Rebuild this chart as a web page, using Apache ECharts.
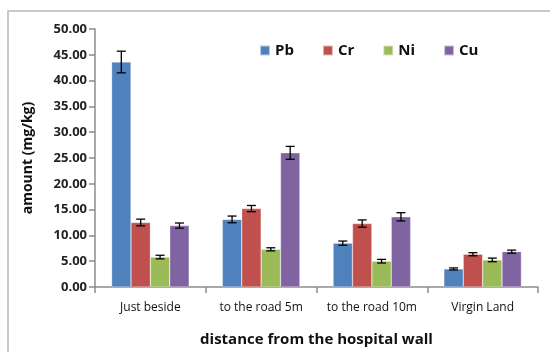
<!DOCTYPE html>
<html>
<head>
<meta charset="utf-8">
<script src="https://cdn.jsdelivr.net/npm/echarts@6/dist/echarts.min.js"></script>
<style>
  html, body { margin: 0; padding: 0; background: #fff; }
  #chart { width: 550px; height: 352px; }
</style>
</head>
<body>
<div id="chart"></div>
<script>
// Sampling sites and heavy-metal concentrations (mg/kg) with standard errors
const categories = ['Just beside', 'to the road 5m', 'to the road 10m', 'Virgin Land'];
const metals = ['Pb', 'Cr', 'Ni', 'Cu'];
const pbValues = [43.6, 13.1, 8.5, 3.5];
const crValues = [12.5, 15.2, 12.3, 6.35];
const niValues = [5.8, 7.3, 5.0, 5.25];
const cuValues = [11.9, 26.0, 13.6, 6.85];
const pbErrors = [2.1, 0.65, 0.4, 0.2];
const crErrors = [0.65, 0.6, 0.7, 0.3];
const niErrors = [0.35, 0.3, 0.35, 0.35];
const cuErrors = [0.5, 1.25, 0.8, 0.3];
const yTicks = [0, 5, 10, 15, 20, 25, 30, 35, 40, 45, 50];

const values = [pbValues, crValues, niValues, cuValues];
const errors = [pbErrors, crErrors, niErrors, cuErrors];
const colors = ['#4F81BD', '#C0504D', '#9BBB59', '#8064A2'];
const CATEGORY_GAP = 0.3;
const FONT = '"Open Sans", "Liberation Sans", sans-serif';

const chart = echarts.init(document.getElementById('chart'), null, { renderer: 'canvas' });

const barSeries = metals.map((name, i) => ({
  name: name,
  type: 'bar',
  data: values[i],
  barGap: '0%',
  barCategoryGap: (CATEGORY_GAP * 100) + '%',
  itemStyle: { color: colors[i], borderColor: 'rgba(255,255,255,0.6)', borderWidth: 0.5 },
  z: 2
}));

// Error whiskers drawn beside each bar of the group
const errorSeries = metals.map((name, i) => ({
  type: 'custom',
  name: name + ' error',
  data: values[i].map((v, k) => [k, v - errors[i][k], v + errors[i][k]]),
  z: 5,
  silent: true,
  renderItem: function (params, api) {
    const band = api.size([1, 0])[0];
    const barW = band * (1 - CATEGORY_GAP) / metals.length;
    const center = api.coord([api.value(0), 0])[0];
    const x = center - band * (1 - CATEGORY_GAP) / 2 + barW * (i + 0.5);
    const lo = api.coord([api.value(0), api.value(1)])[1];
    const hi = api.coord([api.value(0), api.value(2)])[1];
    const cap = 4.5;
    const style = { stroke: '#000', lineWidth: 1.3 };
    return {
      type: 'group',
      children: [
        { type: 'line', shape: { x1: x, y1: lo, x2: x, y2: hi }, style: style },
        { type: 'line', shape: { x1: x - cap, y1: lo, x2: x + cap, y2: lo }, style: style },
        { type: 'line', shape: { x1: x - cap, y1: hi, x2: x + cap, y2: hi }, style: style }
      ]
    };
  }
}));

chart.setOption({
  animation: false,
  backgroundColor: '#fff',
  graphic: [{
    type: 'rect',
    shape: { x: 8, y: 11, width: 620, height: 420 },
    style: { fill: 'none', stroke: '#b8b8b8', lineWidth: 1.5 },
    silent: true,
    z: -1
  }],
  legend: {
    data: metals,
    left: 254,
    top: 38,
    itemWidth: 10,
    itemHeight: 10,
    itemGap: 28,
    icon: 'rect',
    textStyle: { fontFamily: FONT, fontWeight: 'bold', fontSize: 15, color: '#111' }
  },
  grid: { left: 95, right: 12, top: 29, bottom: 63, containLabel: false },
  xAxis: {
    type: 'category',
    data: categories,
    name: 'distance from the hospital wall',
    nameLocation: 'middle',
    nameGap: 45,
    nameTextStyle: { fontFamily: FONT, fontWeight: 'bold', fontSize: 15, color: '#111' },
    axisLine: { lineStyle: { color: '#8c8c8c', width: 1.5 } },
    axisTick: { show: true, length: 6, lineStyle: { color: '#8c8c8c', width: 1.5 } },
    axisLabel: { interval: 0, fontFamily: FONT, fontSize: 12, color: '#111', margin: 15 }
  },
  yAxis: {
    type: 'value',
    min: yTicks[0],
    max: yTicks[yTicks.length - 1],
    interval: yTicks[1] - yTicks[0],
    name: 'amount (mg/kg)',
    nameLocation: 'middle',
    nameGap: 60,
    nameTextStyle: { fontFamily: FONT, fontWeight: 'bold', fontSize: 14, color: '#111' },
    axisLine: { show: true, lineStyle: { color: '#8c8c8c', width: 1.5 } },
    axisTick: { show: true, length: 6, lineStyle: { color: '#8c8c8c', width: 1.5 } },
    splitLine: { show: false },
    axisLabel: {
      fontFamily: FONT, fontWeight: 'bold', fontSize: 13, color: '#222', margin: 8,
      formatter: v => v.toFixed(2)
    }
  },
  series: barSeries.concat(errorSeries)
});
</script>
</body>
</html>
